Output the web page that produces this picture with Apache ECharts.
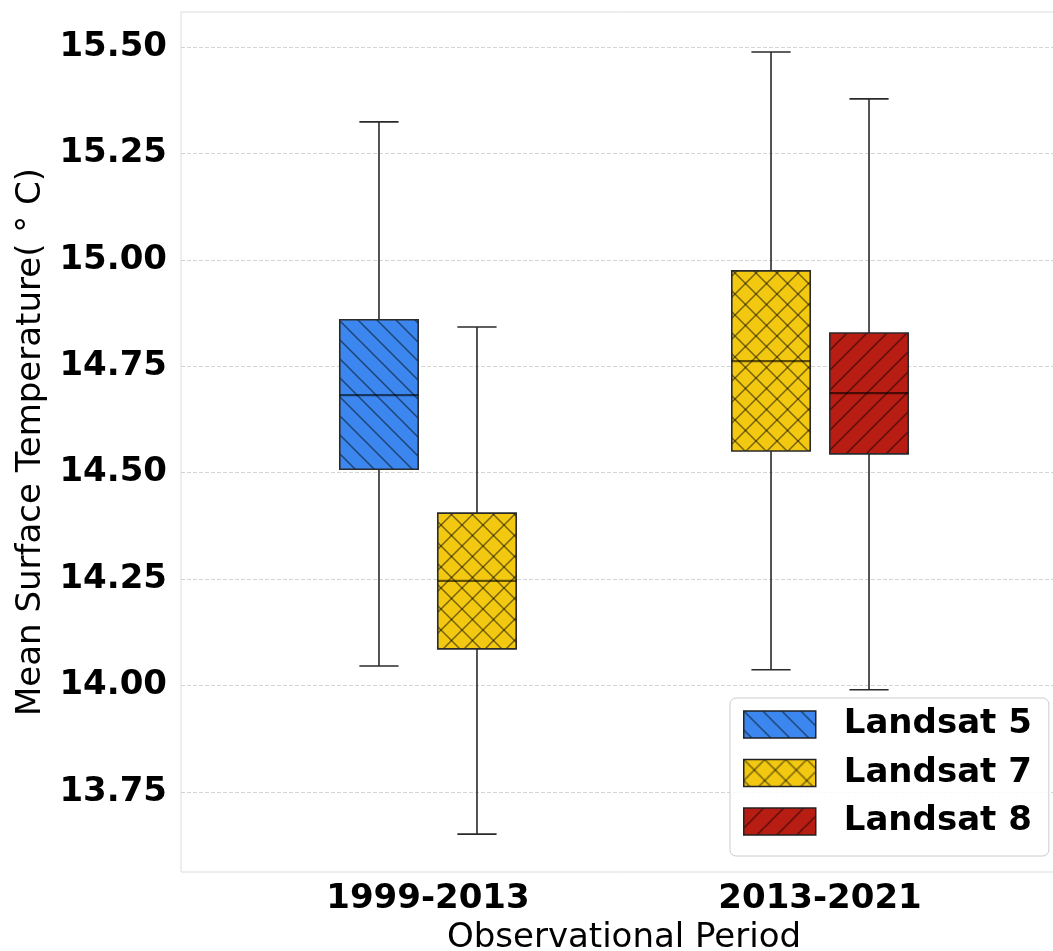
<!DOCTYPE html>
<html>
<head>
<meta charset="utf-8">
<script src="https://cdn.jsdelivr.net/npm/echarts@6/dist/echarts.min.js"></script>
<style>
html,body{margin:0;padding:0;background:#fff;}
#chart{width:1053px;height:951px;}
</style>
</head>
<body>
<div id="chart"></div>
<script>
// ---- data ----
const categories = ['1999-2013', '2013-2021'];
const seriesNames = ['Landsat 5', 'Landsat 7', 'Landsat 8'];
// [low whisker, Q1, median, Q3, high whisker] per category (null = absent)
const landsat5 = [[14.046, 14.508, 14.682, 14.859, 15.324], null];
const landsat7 = [[13.651, 14.086, 14.246, 14.405, 14.842], [14.037, 14.551, 14.762, 14.974, 15.488]];
const landsat8 = [null, [13.990, 14.544, 14.687, 14.828, 15.378]];
const yTicks = [13.75, 14.00, 14.25, 14.50, 14.75, 15.00, 15.25, 15.50];

const seriesValues = [landsat5, landsat7, landsat8];
const colors = ['#3b87ef', '#f2c811', '#b81d13'];
const hatchKinds = ['back', 'cross', 'fwd'];

function makeHatch(bg, kind, size) {
  const c = document.createElement('canvas');
  c.width = size; c.height = size;
  const g = c.getContext('2d');
  g.fillStyle = bg; g.fillRect(0, 0, size, size);
  g.strokeStyle = 'rgba(0,0,0,0.5)';
  g.lineWidth = 1.5;
  function back() {
    g.beginPath();
    g.moveTo(-2, -2); g.lineTo(size + 2, size + 2);
    g.moveTo(-2 - size, -2); g.lineTo(2, size + 2);
    g.moveTo(size - 2, -2); g.lineTo(2 * size + 2, size + 2);
    g.stroke();
  }
  function fwd() {
    g.beginPath();
    g.moveTo(-2, size + 2); g.lineTo(size + 2, -2);
    g.moveTo(-2 - size, size + 2); g.lineTo(2, -2);
    g.moveTo(size - 2, size + 2); g.lineTo(2 * size + 2, -2);
    g.stroke();
  }
  if (kind === 'back') back();
  else if (kind === 'fwd') fwd();
  else { back(); fwd(); }
  return c;
}
const hatchSizes = [19, 21, 20];
const patterns = colors.map((col, i) => ({
  image: makeHatch(col, hatchKinds[i], hatchSizes[i]),
  repeat: 'repeat'
}));

// positions: within each category, boxes side by side
const boxStep = 0.25, boxW = 0.2, capW = 0.1;
const seriesData = seriesValues.map(() => []);
categories.forEach((cat, ci) => {
  const present = [];
  seriesValues.forEach((vals, si) => { if (vals[ci]) present.push(si); });
  present.forEach((si, k) => {
    const off = (k - (present.length - 1) / 2) * boxStep;
    seriesData[si].push([ci + 1 + off].concat(seriesValues[si][ci]));
  });
});

const lineCol = '#2a2a2a';
function renderBox(params, api) {
  const x = api.value(0);
  const lo = api.value(1), q1 = api.value(2), md = api.value(3), q3 = api.value(4), hi = api.value(5);
  const pLo = api.coord([x, lo]), pQ1 = api.coord([x, q1]), pMd = api.coord([x, md]);
  const pQ3 = api.coord([x, q3]), pHi = api.coord([x, hi]);
  const bw = api.size([boxW, 0])[0];
  const cw = api.size([capW, 0])[0];
  const cx = pLo[0];
  const ls = {stroke: lineCol, lineWidth: 1.6};
  return {
    type: 'group',
    children: [
      {type: 'line', shape: {x1: cx, y1: pLo[1], x2: cx, y2: pQ1[1]}, style: ls},
      {type: 'line', shape: {x1: cx, y1: pQ3[1], x2: cx, y2: pHi[1]}, style: ls},
      {type: 'line', shape: {x1: cx - cw / 2, y1: pLo[1], x2: cx + cw / 2, y2: pLo[1]}, style: ls},
      {type: 'line', shape: {x1: cx - cw / 2, y1: pHi[1], x2: cx + cw / 2, y2: pHi[1]}, style: ls},
      {type: 'rect', shape: {x: cx - bw / 2, y: pQ3[1], width: bw, height: pQ1[1] - pQ3[1]},
        style: {fill: patterns[params.seriesIndex], stroke: lineCol, lineWidth: 1.6}},
      {type: 'line', shape: {x1: cx - bw / 2, y1: pMd[1], x2: cx + bw / 2, y2: pMd[1]},
        style: {stroke: 'rgba(0,0,0,0.6)', lineWidth: 2.2}}
    ]
  };
}

const font = 'DejaVu Sans';
const chart = echarts.init(document.getElementById('chart'), null, {renderer: 'canvas'});
chart.setOption({
  animation: false,
  backgroundColor: '#fff',
  grid: {left: 181, top: 12, bottom: 79, right: -14, outerBoundsMode: 'none', containLabel: false,
    show: true, borderColor: '#dcdcdc', borderWidth: 1, backgroundColor: 'transparent'},
  xAxis: {
    type: 'value', min: 0.37, max: 2.63,
    axisLine: {show: false}, axisTick: {show: false, customValues: [1, 2]},
    splitLine: {show: false},
    axisLabel: {
      customValues: [1, 2],
      formatter: v => categories[Math.round(v) - 1] || '',
      fontFamily: font, fontWeight: 'bold', fontSize: 34, color: '#000', margin: 10
    },
    name: 'Observational Period', nameLocation: 'middle', nameGap: 49,
    nameTextStyle: {fontFamily: font, fontSize: 34, color: '#000'}
  },
  yAxis: {
    type: 'value', min: 13.562, max: 15.582,
    axisLine: {show: false},
    axisTick: {show: false, customValues: yTicks},
    splitLine: {show: true, lineStyle: {color: '#cfcfcf', width: 0.9, type: [4, 2]}},
    axisLabel: {
      customValues: yTicks,
      formatter: v => v.toFixed(2),
      fontFamily: font, fontWeight: 'bold', fontSize: 34, color: '#000', margin: 14
    },
    name: 'Mean Surface Temperature( ° C)', nameLocation: 'middle', nameGap: 133, nameRotate: 90,
    nameTextStyle: {fontFamily: font, fontSize: 34, color: '#000'}
  },
  legend: {
    orient: 'vertical', left: 730, top: 698,
    data: seriesNames,
    icon: 'rect', itemWidth: 72, itemHeight: 27, itemGap: 14.5,
    padding: [9.5, 17, 17.5, 13],
    backgroundColor: 'rgba(255,255,255,0.85)', borderColor: '#cccccc', borderWidth: 1, borderRadius: 6,
    itemStyle: {borderColor: '#222', borderWidth: 1.5},
    textStyle: {fontFamily: font, fontWeight: 'bold', fontSize: 34, color: '#000', padding: [0, 0, 0, 23]}
  },
  series: seriesNames.map((name, si) => ({
    type: 'custom', name: name,
    data: seriesData[si],
    encode: {x: 0, y: [1, 2, 3, 4, 5]},
    itemStyle: {color: patterns[si], borderColor: '#222', borderWidth: 1.5},
    renderItem: renderBox,
    clip: true
  }))
});
</script>
</body>
</html>
